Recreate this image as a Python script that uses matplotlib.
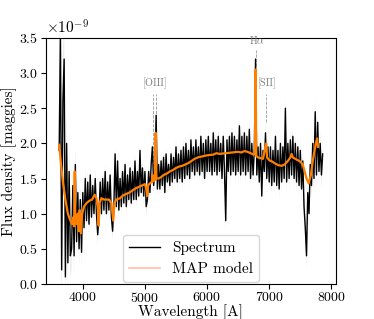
import numpy as np
import matplotlib
matplotlib.use("Agg")
import matplotlib.pyplot as plt
from matplotlib.lines import Line2D

plt.rcParams['font.family'] = 'serif'
plt.rcParams['font.serif'] = ['cmr10']
plt.rcParams['mathtext.fontset'] = 'cm'
plt.rcParams['axes.formatter.use_mathtext'] = True
plt.rcParams['font.size'] = 10

# observed spectrum, 20 A sampling from 3620 A (flux in 1e-9 maggies)
wave_start, wave_step = 3620, 20
flux = [
    1.9, 3.6, 0.2, 2.6, 3.2, 0.1, 2.0, 0.3, 1.6, 0.4,
    0.5, 1.4, 0.4, 1.7, 0.6, 1.3, 0.5, 1.2, 0.45, 1.3,
    0.8, 1.5, 0.9, 1.45, 0.85, 1.55, 0.95, 1.4, 1.0, 1.5,
    1.0, 0.7, 0.95, 1.45, 1.0, 1.5, 1.05, 1.6, 1.0, 1.45,
    1.05, 1.55, 0.95, 0.75, 1.1, 1.85, 1.1, 1.75, 1.05, 1.5,
    1.1, 1.6, 1.15, 1.7, 1.1, 1.55, 1.2, 1.65, 1.15, 1.6,
    1.2, 1.75, 1.2, 1.6, 1.25, 1.9, 1.3, 1.65, 1.25, 1.6,
    1.1, 1.2, 1.6, 1.3, 1.7, 1.95, 1.4, 1.6, 2.4, 1.35,
    1.7, 1.35, 1.75, 1.4, 1.8, 1.3, 1.85, 1.45, 1.7, 1.4,
    1.85, 1.45, 1.8, 1.5, 1.95, 1.45, 1.85, 1.5, 1.9, 1.45,
    1.95, 1.5, 2.0, 1.55, 1.9, 1.5, 2.05, 1.6, 1.95, 1.55,
    2.05, 1.6, 1.95, 1.55, 2.1, 1.6, 2.0, 1.5, 2.05, 1.6,
    2.1, 1.6, 2.0, 1.55, 2.15, 1.6, 2.05, 1.55, 2.1, 1.6,
    2.0, 1.5, 2.1, 1.6, 0.9, 2.05, 1.6, 2.1, 1.55, 2.15,
    1.6, 2.1, 1.55, 2.05, 1.6, 2.25, 1.55, 2.1, 1.6, 2.15,
    1.55, 2.1, 1.6, 2.2, 1.5, 2.0, 1.55, 1.9, 3.2, 1.55,
    1.95, 1.45, 2.0, 1.25, 1.9, 1.6, 2.15, 1.5, 1.95, 1.45,
    1.95, 1.4, 1.9, 1.45, 2.1, 1.4, 1.9, 1.35, 2.0, 1.45,
    1.95, 1.5, 2.5, 1.45, 2.0, 1.5, 2.05, 1.55, 2.1, 1.5,
    2.0, 1.45, 1.95, 1.4, 1.9, 1.35, 1.75, 1.1, 0.8, 0.4,
    1.3, 1.0, 1.7, 1.4, 2.0, 1.5, 2.45, 1.55, 2.3, 1.6,
    2.0, 1.55, 1.85,
]
flux_err = [
    0.6, 0.7, 0.6, 0.7, 0.6, 0.5, 0.5, 0.45, 0.4, 0.35,
    0.3, 0.3, 0.28, 0.3, 0.25, 0.25, 0.22, 0.2, 0.2, 0.2,
    0.18, 0.18, 0.17, 0.17, 0.16, 0.16, 0.15, 0.15, 0.15, 0.15,
    0.14, 0.14, 0.14, 0.14, 0.13, 0.13, 0.13, 0.13, 0.13, 0.13,
    0.12, 0.12, 0.12, 0.12, 0.12, 0.12, 0.12, 0.12, 0.12, 0.12,
    0.12, 0.12, 0.12, 0.12, 0.12, 0.12, 0.12, 0.12, 0.12, 0.12,
    0.12, 0.12, 0.12, 0.12, 0.12, 0.12, 0.12, 0.12, 0.12, 0.12,
    0.12, 0.12, 0.12, 0.12, 0.12, 0.15, 0.12, 0.12, 0.15, 0.12,
    0.12, 0.12, 0.12, 0.12, 0.12, 0.12, 0.12, 0.12, 0.12, 0.12,
    0.12, 0.12, 0.12, 0.12, 0.12, 0.12, 0.12, 0.12, 0.12, 0.12,
    0.12, 0.12, 0.12, 0.12, 0.12, 0.12, 0.12, 0.12, 0.12, 0.12,
    0.12, 0.12, 0.12, 0.12, 0.12, 0.12, 0.12, 0.12, 0.12, 0.12,
    0.12, 0.12, 0.12, 0.12, 0.12, 0.12, 0.12, 0.12, 0.12, 0.12,
    0.12, 0.12, 0.12, 0.12, 0.15, 0.12, 0.12, 0.12, 0.12, 0.12,
    0.13, 0.13, 0.13, 0.13, 0.13, 0.13, 0.13, 0.13, 0.13, 0.13,
    0.13, 0.13, 0.13, 0.13, 0.13, 0.13, 0.13, 0.13, 0.15, 0.13,
    0.14, 0.14, 0.14, 0.14, 0.14, 0.14, 0.14, 0.14, 0.14, 0.14,
    0.14, 0.14, 0.14, 0.14, 0.14, 0.14, 0.14, 0.14, 0.14, 0.14,
    0.15, 0.15, 0.15, 0.15, 0.15, 0.15, 0.15, 0.15, 0.15, 0.15,
    0.16, 0.16, 0.16, 0.16, 0.16, 0.16, 0.16, 0.18, 0.18, 0.2,
    0.18, 0.18, 0.18, 0.18, 0.18, 0.18, 0.18, 0.18, 0.18, 0.18,
    0.18, 0.18, 0.18,
]

# MAP model knots
model_wave = [
    3620, 3650, 3680, 3720, 3760, 3800, 3830, 3850, 3860, 3870, 3880, 3900,
    3920, 3935, 3950, 3970, 3990, 4020, 4060, 4100, 4150, 4190, 4220, 4240,
    4255, 4270, 4300, 4340, 4380, 4420, 4460, 4490, 4510, 4540, 4600, 4650,
    4700, 4750, 4800, 4850, 4900, 4950, 5000, 5020, 5035, 5050, 5080, 5110,
    5123, 5135, 5160, 5172, 5185, 5220, 5260, 5300, 5350, 5400, 5450, 5500,
    5550, 5600, 5650, 5700, 5750, 5800, 5850, 5900, 5950, 6000, 6100, 6150,
    6200, 6300, 6400, 6500, 6550, 6600, 6650, 6700, 6750, 6770, 6781, 6792,
    6820, 6860, 6900, 6938, 6952, 6965, 7000, 7050, 7100, 7150, 7200, 7250,
    7300, 7340, 7360, 7380, 7420, 7460, 7500, 7540, 7570, 7600, 7635, 7670,
    7700, 7730, 7750, 7770, 7785,
]
model_flux = [
    1.98, 1.7, 1.45, 1.2, 1.0, 0.9, 0.85, 0.95, 0.82, 1.6, 0.9, 0.85,
    1.0, 0.75, 1.05, 0.72, 1.0, 1.1, 1.15, 1.18, 1.2, 1.27, 1.22, 1.1,
    0.83, 1.15, 1.22, 1.2, 1.2, 1.2, 1.15, 0.9, 1.15, 1.2, 1.22, 1.26,
    1.28, 1.3, 1.33, 1.36, 1.38, 1.4, 1.42, 1.35, 1.25, 1.4, 1.43, 1.45,
    1.55, 1.46, 1.48, 2.15, 1.5, 1.5, 1.52, 1.55, 1.57, 1.6, 1.62, 1.65,
    1.67, 1.68, 1.7, 1.72, 1.75, 1.78, 1.8, 1.81, 1.82, 1.83, 1.84, 1.86,
    1.85, 1.86, 1.87, 1.88, 1.87, 1.89, 1.88, 1.86, 1.84, 1.85, 3.05, 1.82,
    1.8, 1.79, 1.78, 1.95, 2.0, 1.8, 1.76, 1.74, 1.71, 1.69, 1.68, 1.7,
    1.75, 1.8, 1.85, 1.8, 1.78, 1.76, 1.74, 1.7, 1.6, 1.5, 1.43, 1.55,
    1.75, 1.9, 2.0, 2.07, 1.95,
]

# emission line markers: label, wavelengths, top, bottom
lines = [
    ('[OIII]', [5123, 5172], 2.7, 1.6),
    (r'H$\alpha$', [6781], 3.33, 3.1),
    ('[SII]', [6952], 2.7, 2.3),
]
label_y = [2.78, 3.38, 2.78]

wave = np.arange(len(flux)) * wave_step + wave_start
flux = np.array(flux) * 1e-9
flux_err = np.array(flux_err) * 1e-9
model_wave = np.array(model_wave)
model_flux = np.array(model_flux) * 1e-9

fig = plt.figure(figsize=(3.74, 3.19), dpi=100)
ax = fig.add_axes([0.123, 0.11, 0.775, 0.771])

ax.fill_between(wave, flux - flux_err, flux + flux_err, color='0.85', alpha=0.5, lw=0)
ax.plot(wave, flux, color='k', lw=1.0, zorder=2)
ax.plot(model_wave, model_flux, color='#ff8000', lw=1.6, zorder=3)

for (name, wl, top, bot), ly in zip(lines, label_y):
    for w in wl:
        ax.plot([w, w], [bot * 1e-9, top * 1e-9], ls='--', color='0.6', lw=0.6, zorder=1)
    ax.text(np.mean(wl) + 20, ly * 1e-9, name, color='0.5', fontsize=7.5,
            ha='center', va='bottom')

ax.set_ylim(0, 3.5e-9)
ax.set_xlim(3408, 8072)
ax.set_xticks([4000, 5000, 6000, 7000, 8000])
ax.tick_params(axis='x', pad=1.5)
ax.tick_params(axis='y', pad=2.5)
ax.yaxis.get_offset_text().set_fontsize(11)
ax.set_xlabel('Wavelength [A]', fontsize=11)
ax.set_ylabel('Flux density [maggies]', fontsize=11)
ax.xaxis.set_label_coords(0.5, -0.082)
ax.yaxis.set_label_coords(-0.1, 0.5)

handles = [Line2D([], [], color='k', lw=1),
           Line2D([], [], color='#ffbfa6', lw=1.2)]
ax.legend(handles, ['Spectrum', 'MAP model'], loc='lower center',
          borderaxespad=0.1, fontsize=11)

fig.savefig('out.png', dpi=100)
